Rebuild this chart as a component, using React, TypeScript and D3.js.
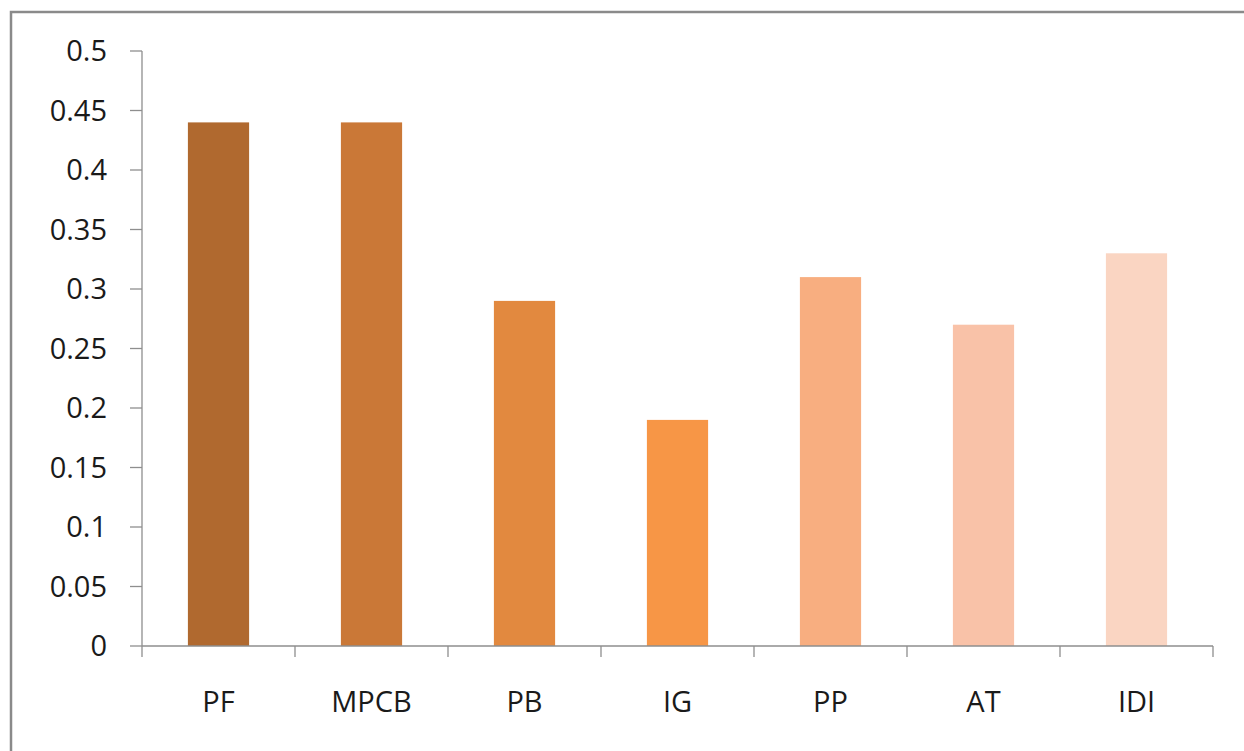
import React from "react";
import * as d3 from "d3";

const categories = ["PF", "MPCB", "PB", "IG", "PP", "AT", "IDI"];
const values = [0.44, 0.44, 0.29, 0.19, 0.31, 0.27, 0.33];
const colors = ["#B0692F", "#CA7837", "#E2893F", "#F79646", "#F8AE80", "#F9C2A8", "#FAD5C2"];
const yTicks = [0, 0.05, 0.1, 0.15, 0.2, 0.25, 0.3, 0.35, 0.4, 0.45, 0.5];
const tickLabels = ["0", "0.05", "0.1", "0.15", "0.2", "0.25", "0.3", "0.35", "0.4", "0.45", "0.5"];

export default function App() {
  const W = 1244, H = 751;
  const x0 = 142, x1 = 1213, yTop = 51, yBot = 646;
  const x = d3.scaleBand<string>().domain(categories).range([x0, x1]).paddingInner(0.6).paddingOuter(0.3);
  const band = d3.scaleBand<string>().domain(categories).range([x0, x1]);
  const y = d3.scaleLinear().domain([0, 0.5]).range([yBot, yTop]);
  const axisColor = "#8E8E8E";
  const font = "Open Sans, sans-serif";
  const fs = 29;
  return (
    <svg width={W} height={H} style={{ position: "absolute", left: 0, top: 0, background: "#fff" }}>
      <rect x={11} y={12} width={1300} height={800} fill="#fff" stroke="#8A8A8A" strokeWidth={2.5} />
      {categories.map((c, i) => (
        <rect key={c} x={x(c)} y={y(values[i])} width={x.bandwidth()} height={y(0) - y(values[i])} fill={colors[i]} />
      ))}
      <line x1={x0} x2={x0} y1={yTop} y2={yBot} stroke={axisColor} strokeWidth={1.3} />
      {yTicks.map((t, i) => (
        <g key={t}>
          <line x1={x0 - 12} x2={x0} y1={y(t)} y2={y(t)} stroke={axisColor} strokeWidth={1.3} />
          <text x={107} y={y(t)} dy="0.36em" textAnchor="end" fontFamily={font} fontSize={fs} fill="#1a1a1a">
            {tickLabels[i]}
          </text>
        </g>
      ))}
      <line x1={x0} x2={x1} y1={yBot} y2={yBot} stroke={axisColor} strokeWidth={1.3} />
      {[...categories.map((c) => band(c) as number), x1].map((bx, i) => (
        <line key={i} x1={bx} x2={bx} y1={yBot} y2={yBot + 11} stroke={axisColor} strokeWidth={1.3} />
      ))}
      {categories.map((c) => (
        <text key={c} x={(band(c) as number) + band.bandwidth() / 2} y={712} textAnchor="middle" fontFamily={font} fontSize={fs} fill="#1a1a1a">
          {c}
        </text>
      ))}
    </svg>
  );
}
